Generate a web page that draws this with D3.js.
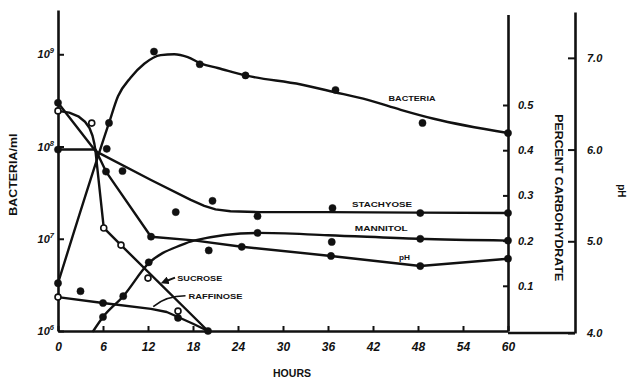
<!DOCTYPE html>
<html><head><meta charset="utf-8">
<script src="https://cdn.jsdelivr.net/npm/d3@7/dist/d3.min.js"></script>
<style>
html,body{margin:0;padding:0;background:#fff;}
svg{display:block;}
text{font-family:"Liberation Sans",Arial,sans-serif;font-weight:bold;fill:#111;}
</style></head>
<body>
<svg id="c" width="629" height="381"></svg>
<script>
// ---------- data ----------
const hourTicks = [0, 6, 12, 18, 24, 30, 36, 42, 48, 54, 60];
const bacteriaTicks = [1e6, 1e7, 1e8, 1e9];
const carbTicks = [0.1, 0.2, 0.3, 0.4, 0.5];
const phTicks = [4, 5, 6, 7];

// bacteria/ml (drawn curve)
const bacteriaCurveHours = [0, 6.8, 8.0, 9.7, 11.5, 13.7, 15.5, 17.3, 19.1, 21.3, 25, 32.4, 36.8, 41.3, 45.7, 50.1, 60];
const bacteriaCurveVals = [3.3e6, 1.8e8, 3.5e8, 5.6e8, 7.9e8, 9.8e8, 1.0e9, 9.3e8, 7.9e8, 7.1e8, 5.9e8, 4.7e8, 3.9e8, 3.2e8, 2.5e8, 2.0e8, 1.4e8];
// bacteria/ml (observed)
const bacteriaObsHours = [0, 6.8, 12.8, 18.9, 25, 37, 48.6, 60];
const bacteriaObsVals = [3.3e6, 1.8e8, 1.07e9, 7.8e8, 5.9e8, 4.1e8, 1.8e8, 1.4e8];

// percent carbohydrate (drawn lines)
const stachyoseHours = [0, 5, 12.4, 17.7, 19.5, 21, 23, 27, 36, 48, 60];
const stachyoseVals = [0.505, 0.398, 0.334, 0.29, 0.277, 0.269, 0.265, 0.263, 0.263, 0.262, 0.261];
const stachyoseObsHours = [0, 6.5, 8.6, 15.7, 20.6, 26.6, 36.6, 48.3, 60];
const stachyoseObsVals = [0.505, 0.403, 0.354, 0.263, 0.288, 0.254, 0.272, 0.261, 0.261];

const sucroseHours = [0, 1.5, 2.7, 3.6, 4.2, 4.6, 4.85, 5.0, 6.1, 8.4, 20];
const sucroseVals = [0.487, 0.483, 0.475, 0.463, 0.449, 0.432, 0.414, 0.398, 0.228, 0.19, 0];
const sucroseObsHours = [0, 4.5, 6.1, 8.4, 12];
const sucroseObsVals = [0.487, 0.46, 0.228, 0.19, 0.117];

const raffinoseHours = [0, 6, 12.4, 14.5, 16, 18, 20];
const raffinoseVals = [0.075, 0.062, 0.049, 0.042, 0.031, 0.016, 0];
const raffinoseObsHours = [3, 6, 16, 20];
const raffinoseObsVals = [0.088, 0.062, 0.029, 0];
const raffinoseOpenHours = [0, 16];
const raffinoseOpenVals = [0.075, 0.044];

const mannitolHours = [4.7, 6, 8.7, 12.1, 16.4, 18.1, 26.7, 36, 48, 60];
const mannitolVals = [0, 0.031, 0.077, 0.15, 0.19, 0.2, 0.217, 0.212, 0.204, 0.2];
const mannitolObsHours = [6, 8.7, 12.1, 26.6, 36.5, 48.3, 60];
const mannitolObsVals = [0.031, 0.077, 0.152, 0.217, 0.197, 0.204, 0.2];

// pH
const phHours = [0, 5, 6.4, 12.4, 18.1, 24.5, 36.4, 48.3, 60];
const phVals = [6.0, 6.0, 5.76, 5.05, 5.01, 4.94, 4.84, 4.73, 4.81];
const phObsHours = [0, 6.4, 12.4, 20.1, 24.5, 36.4, 48.3, 60];
const phObsVals = [6.0, 5.76, 5.05, 4.9, 4.94, 4.84, 4.73, 4.81];

// ---------- chart ----------
const svg = d3.select("#c");
svg.append("rect").attr("width", 629).attr("height", 381).attr("fill", "#fff");
const INK = "#111";

const x = d3.scaleLinear().domain([0, 60]).range([58, 508]);
const yB = d3.scaleLog().domain([1e6, Math.pow(10, 9.48)]).range([331, 10]);
const yC = d3.scaleLinear().domain([0, 0.7]).range([331, 14.6]);
const yP = d3.scaleLinear().domain([4, 7.5]).range([333, 12]);

function styleAxis(g, fs) {
  g.select(".domain").attr("stroke", INK).attr("stroke-width", 2.6);
  g.selectAll(".tick line").attr("stroke", INK).attr("stroke-width", 2);
  g.selectAll(".tick text").attr("font-size", fs).attr("font-style", "italic")
    .attr("font-family", "'Liberation Sans',Arial,sans-serif").attr("font-weight", "bold").attr("fill", INK);
}

// left log axis
const gL = svg.append("g").attr("transform", `translate(${x(0)},0)`)
  .call(d3.axisLeft(yB).tickValues(bacteriaTicks).tickSizeInner(-6).tickSizeOuter(0).tickPadding(4).tickFormat(() => ""));
styleAxis(gL, 11);
gL.selectAll(".tick text").each(function (d) {
  const t = d3.select(this);
  t.append("tspan").text("10");
  t.append("tspan").text(Math.round(Math.log10(d))).attr("dy", -5).attr("font-size", 7.5);
});

// bottom axis
const gB = svg.append("g").attr("transform", `translate(0,${yB(1e6)})`)
  .call(d3.axisBottom(x).tickValues(hourTicks).tickSizeInner(-5).tickSizeOuter(0).tickPadding(11));
styleAxis(gB, 12);

// carbohydrate axis
const gC = svg.append("g").attr("transform", `translate(${x(60)},0)`)
  .call(d3.axisRight(yC).tickValues(carbTicks).tickSizeInner(-5).tickSizeOuter(0).tickPadding(10).tickFormat(d3.format(".1f")));
styleAxis(gC, 11);

// pH axis
const xPh = 575;
const gP = svg.append("g").attr("transform", `translate(${xPh},0)`)
  .call(d3.axisRight(yP).tickValues(phTicks).tickSizeInner(-7).tickSizeOuter(0).tickPadding(12).tickFormat(d3.format(".1f")));
styleAxis(gP, 11);
svg.append("line").attr("x1", x(60)).attr("x2", xPh).attr("y1", yP(4)).attr("y2", yP(4))
  .attr("stroke", INK).attr("stroke-width", 2.6);

// axis titles
svg.append("text").attr("transform", `translate(17,${(yB(1e6) + yB(1e9)) / 2 - 18}) rotate(-90)`)
  .attr("text-anchor", "middle").attr("font-size", 10).attr("textLength", 82).attr("lengthAdjust", "spacingAndGlyphs")
  .text("BACTERIA/ml");
svg.append("text").attr("transform", `translate(555,${yC(0.295)}) rotate(90)`)
  .attr("text-anchor", "middle").attr("font-size", 11).attr("textLength", 167).attr("lengthAdjust", "spacingAndGlyphs")
  .text("PERCENT CARBOHYDRATE");
svg.append("text").attr("transform", `translate(618,${yP(5.55)}) rotate(90)`)
  .attr("text-anchor", "middle").attr("font-size", 10).text("pH");
svg.append("text").attr("x", x(31.2)).attr("y", 377).attr("text-anchor", "middle")
  .attr("font-size", 10.5).attr("textLength", 38).attr("lengthAdjust", "spacingAndGlyphs").text("HOURS");

// lines
function drawLine(hours, vals, y, curve) {
  const pts = hours.map((h, i) => [x(h), y(vals[i])]);
  svg.append("path").attr("d", d3.line().curve(curve)(pts))
    .attr("fill", "none").attr("stroke", INK).attr("stroke-width", 2.4)
    .attr("stroke-linejoin", "round").attr("stroke-linecap", "round");
}
function drawDots(hours, vals, y, open) {
  svg.append("g").selectAll("circle").data(hours).join("circle")
    .attr("cx", h => x(h)).attr("cy", (h, i) => y(vals[i]))
    .attr("r", open ? 3 : 3.6)
    .attr("fill", open ? "#fff" : INK).attr("stroke", INK).attr("stroke-width", open ? 1.6 : 0.5);
}

drawLine(bacteriaCurveHours, bacteriaCurveVals, yB, d3.curveMonotoneX);
drawLine(stachyoseHours, stachyoseVals, yC, d3.curveLinear);
drawLine(sucroseHours, sucroseVals, yC, d3.curveLinear);
drawLine(raffinoseHours, raffinoseVals, yC, d3.curveLinear);
drawLine(mannitolHours, mannitolVals, yC, d3.curveMonotoneX);
drawLine(phHours, phVals, yP, d3.curveLinear);

drawDots(bacteriaObsHours, bacteriaObsVals, yB, false);
drawDots(stachyoseObsHours, stachyoseObsVals, yC, false);
drawDots(raffinoseObsHours, raffinoseObsVals, yC, false);
drawDots(mannitolObsHours, mannitolObsVals, yC, false);
drawDots(phObsHours, phObsVals, yP, false);
drawDots(sucroseObsHours, sucroseObsVals, yC, true);
drawDots(raffinoseOpenHours, raffinoseOpenVals, yC, true);

// series labels
function label(txt, h, yv, yS, len, anchor) {
  svg.append("text").attr("x", x(h)).attr("y", yS(yv)).attr("text-anchor", anchor || "middle")
    .attr("font-size", 7.5).attr("textLength", len).attr("lengthAdjust", "spacingAndGlyphs").text(txt);
}
label("BACTERIA", 47.2, 3.1e8, yB, 47);
label("STACHYOSE", 43.2, 0.274, yC, 60);
label("MANNITOL", 43.1, 0.221, yC, 53);
label("pH", 46.2, 4.8, yP, 11);
label("SUCROSE", 15.9, 0.111, yC, 45, "start");
label("RAFFINOSE", 17.4, 0.071, yC, 54, "start");

// pointer arrows
svg.append("defs").append("marker").attr("id", "ah").attr("viewBox", "0 0 10 10")
  .attr("refX", 5).attr("refY", 5).attr("markerWidth", 4).attr("markerHeight", 4).attr("orient", "auto")
  .append("path").attr("d", "M0,0L10,5L0,10z").attr("fill", INK);
svg.append("path").attr("d", `M${x(15.6)},${yC(0.118)}L${x(14.2)},${yC(0.109)}`)
  .attr("stroke", INK).attr("stroke-width", 2).attr("fill", "none").attr("marker-end", "url(#ah)");
svg.append("path").attr("d", `M${x(17.0)},${yC(0.078)}Q${x(14.4)},${yC(0.078)} ${x(12.7)},${yC(0.054)}`)
  .attr("stroke", INK).attr("stroke-width", 1.6).attr("fill", "none");
</script>
</body></html>
